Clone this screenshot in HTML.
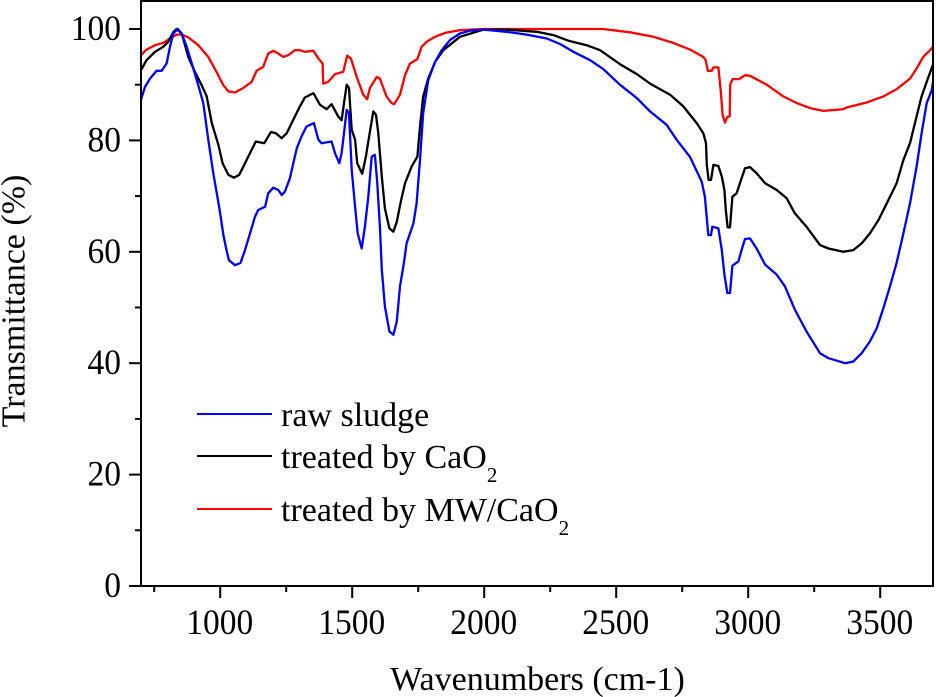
<!DOCTYPE html>
<html>
<head>
<meta charset="utf-8">
<style>
html,body{margin:0;padding:0;background:#fff;width:936px;height:697px;overflow:hidden}
svg{display:block}
text{font-family:"Liberation Serif",serif;fill:#000}
</style>
</head>
<body>
<svg id="chart" xmlns="http://www.w3.org/2000/svg" width="936" height="697" viewBox="0 0 936 697">
<text x="537.5" y="690" font-size="34" text-anchor="middle">Wavenumbers (cm-1)</text>
<text transform="translate(24.5,301) rotate(-90)" font-size="34" text-anchor="middle">Transmittance (%)</text>
<g>
<line x1="197" x2="272" y1="414" y2="414" stroke="#0000ff" stroke-width="2"/>
<text x="281" y="426" font-size="34">raw sludge</text>
<line x1="197" x2="272" y1="456" y2="456" stroke="#000" stroke-width="2"/>
<text x="281" y="468" font-size="34">treated by CaO<tspan font-size="21" dy="14">2</tspan></text>
<line x1="197" x2="272" y1="509" y2="509" stroke="#ff0000" stroke-width="2"/>
<text x="281" y="521" font-size="34">treated by MW/CaO<tspan font-size="21" dy="14">2</tspan></text>
</g>
</svg>
<script>
const xMajorTicks = [1000, 1500, 2000, 2500, 3000, 3500];
const xMinorTicks = [750, 1250, 1750, 2250, 2750, 3250];
const yMajorTicks = [0, 20, 40, 60, 80, 100];
const yMinorTicks = [10, 30, 50, 70, 90];

const rawSludge = [[700,87.3],[715,89.6],[734,91.1],[759,92.5],[778,92.5],[797,93.8],[810,96.8],[822,99.2],[839,100],[854,99.2],[873,96.8],[898,92.9],[917,89.9],[936,86.7],[955,80.1],[974,74.1],[996,68.1],[1002,66.3],[1012,63],[1024,60.3],[1033,58.5],[1056,57.6],[1077,58],[1094,60.3],[1113,63.3],[1132,66.3],[1144,67.5],[1170,68.1],[1182,70.5],[1201,71.5],[1220,71.1],[1233,70.2],[1245,70.8],[1264,73.2],[1277,75.9],[1290,78.6],[1308,80.7],[1327,82.5],[1355,83.1],[1372,80.1],[1384,79.5],[1422,79.8],[1435,77.7],[1451,75.9],[1460,77.7],[1469,81.3],[1479,85.5],[1488,84.9],[1498,74.7],[1511,68.1],[1521,63.3],[1536,60.6],[1548,64.5],[1561,69.9],[1574,77.1],[1586,77.4],[1595,72.3],[1605,64.5],[1612,56.8],[1624,50.2],[1641,45.7],[1656,45.1],[1669,47.5],[1681,53.8],[1696,58],[1706,61.5],[1732,65.1],[1744,68.7],[1757,76.5],[1769,84.9],[1788,90.8],[1814,94.1],[1839,96.2],[1870,98],[1908,99.2],[1946,99.7],[1997,99.9],[2085,99.5],[2161,99],[2237,98.3],[2287,97.3],[2338,95.9],[2401,94.4],[2451,92.8],[2514,90],[2578,87.6],[2628,85.2],[2691,82.8],[2729,80.1],[2780,77],[2824,72.6],[2836,69.9],[2843,66],[2849,63],[2859,63],[2864,64.5],[2887,64.2],[2900,60.3],[2910,55.9],[2921,52.6],[2931,52.6],[2940,57.5],[2963,58.3],[2975,60.3],[2988,62.3],[3007,62.4],[3032,60.6],[3064,57.7],[3108,55.9],[3139,53.8],[3177,49.6],[3221,45.7],[3272,41.8],[3304,40.9],[3367,40],[3398,40.3],[3430,41.8],[3461,43.9],[3487,46.3],[3512,49.9],[3537,53.8],[3562,58],[3588,63.3],[3613,68.7],[3638,75.3],[3657,81.3],[3676,86.7],[3695,89],[3700,90.5]];

const treatedCaO2 = [[700,92.6],[721,94.4],[753,95.9],[784,96.8],[803,97.7],[822,99.4],[835,100],[854,99.2],[879,95],[904,92.3],[930,89.9],[949,87.9],[968,83.1],[993,79.2],[1009,75.9],[1031,73.8],[1052,73.3],[1072,73.8],[1094,75.9],[1119,78.3],[1135,79.8],[1167,79.5],[1192,81.5],[1211,81.3],[1233,80.4],[1252,81.3],[1277,83.7],[1302,86.1],[1321,87.7],[1353,88.5],[1378,86.4],[1403,85.6],[1422,86.5],[1447,84.3],[1460,83.6],[1469,86.7],[1479,90],[1488,89.4],[1498,81.9],[1511,80.1],[1519,75.9],[1538,74],[1552,77.1],[1565,81],[1580,85.2],[1590,84.6],[1599,81.3],[1612,73.5],[1624,67.8],[1641,64.2],[1656,63.6],[1669,65.4],[1684,69],[1700,72.3],[1725,75.3],[1747,77.1],[1757,82.5],[1769,87.9],[1788,91.1],[1814,94.1],[1845,96.2],[1908,98.6],[1997,99.9],[2085,99.9],[2199,99.5],[2262,98.9],[2319,97.9],[2388,97.1],[2439,96.2],[2514,93.7],[2578,91.9],[2628,90.2],[2704,88.2],[2754,86.1],[2805,83.1],[2830,81.3],[2840,79.5],[2843,75.6],[2850,72.9],[2859,72.9],[2868,75.6],[2887,75.4],[2900,73.5],[2910,71.1],[2915,67.5],[2922,64.4],[2931,64.4],[2940,69.9],[2956,70.5],[2975,73.2],[2988,75],[3007,75.2],[3032,74.1],[3064,72.3],[3108,71.1],[3146,69.6],[3177,66.9],[3221,64.5],[3272,61.2],[3304,60.6],[3360,60],[3398,60.3],[3430,61.5],[3461,63.3],[3493,65.7],[3525,68.7],[3562,72.3],[3588,76.5],[3613,79.5],[3638,84.3],[3657,87.9],[3676,90.5],[3695,93],[3700,93.6]];

const treatedMwCaO2 = [[700,95.3],[721,96.3],[753,97.1],[784,97.5],[810,98.3],[835,99],[854,99],[879,98.5],[917,97.1],[955,95],[986,92.3],[1012,89.9],[1031,88.8],[1056,88.6],[1087,89.4],[1119,90.5],[1138,92.5],[1163,93.2],[1182,95.6],[1201,96.1],[1220,95.6],[1239,95],[1258,95.3],[1283,96.2],[1302,96.2],[1321,95.9],[1353,96.1],[1372,94.7],[1388,93.8],[1390,90.2],[1409,90.5],[1435,91.9],[1466,92.3],[1481,95.2],[1495,94.7],[1517,91.4],[1542,88.2],[1557,87.4],[1567,89.4],[1593,91.4],[1605,91.1],[1630,87.9],[1649,86.7],[1659,86.5],[1681,88.2],[1700,91.7],[1719,93.8],[1747,94.6],[1763,96.8],[1782,97.7],[1814,98.6],[1852,99.3],[1908,99.8],[1997,100],[2451,100],[2552,99.4],[2641,98.6],[2716,97.5],[2780,96.3],[2830,95],[2839,94.4],[2847,92.5],[2862,92.5],[2868,93.1],[2887,93.1],[2896,89],[2903,84.6],[2912,83.2],[2921,84.2],[2930,84.3],[2932,90],[2941,91],[2966,91],[2988,91.7],[3007,91.6],[3070,90],[3133,87.9],[3184,86.7],[3234,85.8],[3285,85.3],[3360,85.6],[3373,85.9],[3449,86.8],[3512,87.9],[3562,89.2],[3613,91.1],[3638,92.9],[3663,95],[3689,96.2],[3700,96.8]];

const svgNS = 'http://www.w3.org/2000/svg';
const svg = document.getElementById('chart');
const xMin = 700, xMax = 3700, yMin = 0, yMax = 100;
const left = 141, right = 933, bottom = 586, top100 = 29;

function xScale(v) { return left + (v - xMin) / (xMax - xMin) * (right - left); }
function yScale(v) { return bottom - (v - yMin) / (yMax - yMin) * (bottom - top100); }

function makeLine(x1, y1, x2, y2) {
  const l = document.createElementNS(svgNS, 'line');
  l.setAttribute('x1', x1);
  l.setAttribute('y1', y1);
  l.setAttribute('x2', x2);
  l.setAttribute('y2', y2);
  l.setAttribute('stroke', '#000');
  l.setAttribute('stroke-width', '2');
  svg.appendChild(l);
  return l;
}

function makeLabel(x, y, str, anchor) {
  const t = document.createElementNS(svgNS, 'text');
  t.setAttribute('transform', 'translate(' + x + ',' + y + ') scale(1,1.08)');
  t.setAttribute('font-size', '33.5');
  t.setAttribute('text-anchor', anchor);
  t.textContent = str;
  svg.appendChild(t);
  return t;
}

function drawSeries(data, color, name) {
  const p = document.createElementNS(svgNS, 'polyline');
  p.setAttribute('points', data.map(function (d) { return xScale(d[0]).toFixed(1) + ',' + yScale(d[1]).toFixed(1); }).join(' '));
  p.setAttribute('fill', 'none');
  p.setAttribute('stroke', color);
  p.setAttribute('stroke-width', '2.3');
  p.setAttribute('stroke-linejoin', 'round');
  
  
  svg.appendChild(p);
}

drawSeries(treatedMwCaO2, '#ff0000', 'series-treated-by-mw-cao2');
drawSeries(treatedCaO2, '#000000', 'series-treated-by-cao2');
drawSeries(rawSludge, '#0000ff', 'series-raw-sludge');

const frame = document.createElementNS(svgNS, 'rect');
frame.setAttribute('x', left);
frame.setAttribute('y', 1);
frame.setAttribute('width', right - left);
frame.setAttribute('height', bottom - 1);
frame.setAttribute('fill', 'none');
frame.setAttribute('stroke', '#000');
frame.setAttribute('stroke-width', '2');


svg.appendChild(frame);

xMajorTicks.forEach(function (v) {
  const tick = makeLine(xScale(v), bottom, xScale(v), bottom + 12);
  
  
  const label = makeLabel(xScale(v) - 0.5, 634, String(v), 'middle');
  
  
});
xMinorTicks.forEach(function (v) {
  const tick = makeLine(xScale(v), bottom, xScale(v), bottom + 6);
  
  
});
yMajorTicks.forEach(function (v) {
  const tick = makeLine(129, yScale(v), left, yScale(v));
  
  
  const label = makeLabel(121, yScale(v) + 11, String(v), 'end');
  
  
});
yMinorTicks.forEach(function (v) {
  const tick = makeLine(135, yScale(v), left, yScale(v));
  
  
});
</script>
</body>
</html>
